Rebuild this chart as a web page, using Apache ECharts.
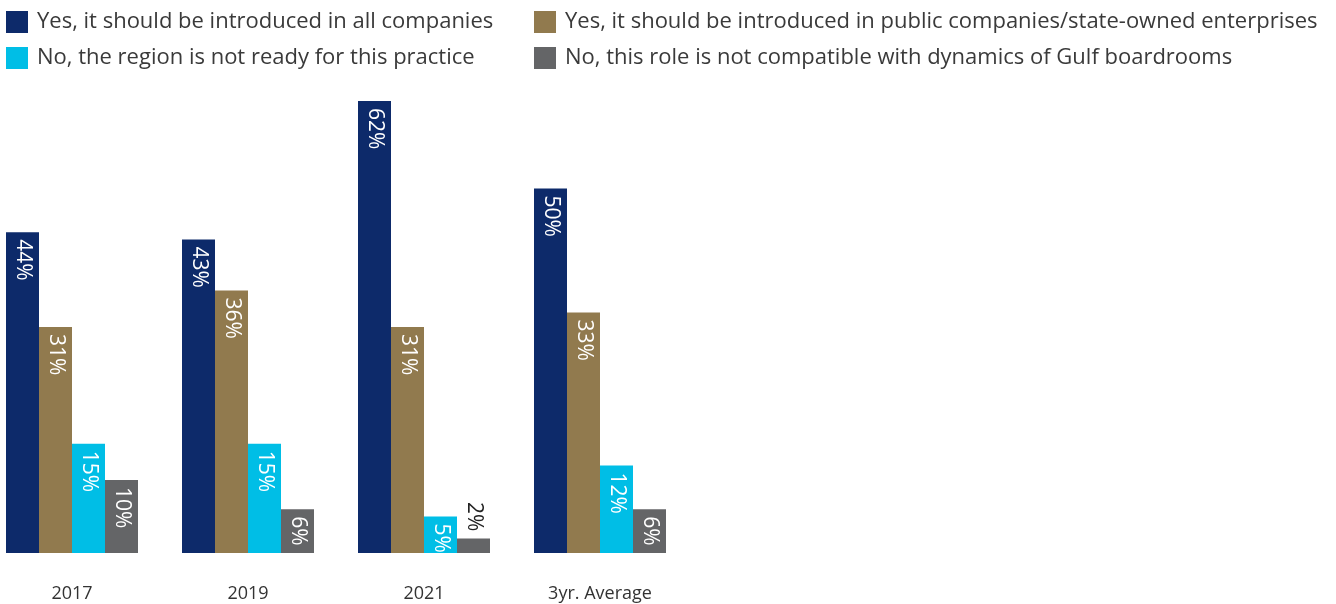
<!DOCTYPE html>
<html>
<head>
<meta charset="utf-8">
<script src="https://cdn.jsdelivr.net/npm/echarts@6/dist/echarts.min.js"></script>
<style>
  html, body { margin: 0; padding: 0; background: #fff; overflow: hidden; }
  /* canvas starts a little left of the page so the first group sits at the edge */
  #chart { width: 1352px; height: 604px; margin-left: -16px; }
</style>
</head>
<body>
<div id="chart"></div>
<script>
// Survey periods on the x axis
const categories = ['2017', '2019', '2021', '3yr. Average'];

// Share of respondents (%) per answer
const seriesNames = [
  'Yes, it should be introduced in all companies',
  'Yes, it should be introduced in public companies/state-owned enterprises',
  'No, the region is not ready for this practice',
  'No, this role is not compatible with dynamics of Gulf boardrooms'
];
const allCompanies = [44, 43, 62, 50];
const publicCompanies = [31, 36, 31, 33];
const notReady = [15, 15, 5, 12];
const notCompatible = [10, 6, 2, 6];

const colors = ['#0d2a6a', '#917a4e', '#00bee6', '#646567'];
const FONT = '"Open Sans", "Noto Sans", sans-serif';

const chart = echarts.init(document.getElementById('chart'), null, { renderer: 'canvas' });

// Small values do not fit inside the bar, so their label sits above it
function makeSeries(name, values, color) {
  return {
    name: name,
    type: 'bar',
    data: values.map(v => {
      const item = { value: v };
      if (v < 4) {
        item.label = {
          position: 'top',
          align: 'right',
          color: '#222',
          distance: 7
        };
      }
      return item;
    }),
    barWidth: 33,
    barGap: '0%',
    itemStyle: { color: color },
    label: {
      show: true,
      position: 'insideTop',
      rotate: -90,
      align: 'left',
      verticalAlign: 'middle',
      distance: 7,
      color: '#fff',
      fontFamily: FONT,
      fontSize: 21,
      formatter: p => p.value + '%'
    }
  };
}

const legendCommon = {
  orient: 'vertical',
  icon: 'rect',
  itemWidth: 22,
  itemHeight: 22,
  itemGap: 14,
  textStyle: {
    fontFamily: FONT,
    fontSize: 22,
    color: '#3a3a3a',
    padding: [0, 0, 0, 4]
  }
};

chart.setOption({
  animation: false,
  color: colors,
  legend: [
    Object.assign({}, legendCommon, { left: 17, top: 6, data: [seriesNames[0], seriesNames[2]] }),
    Object.assign({}, legendCommon, { left: 545, top: 6, data: [seriesNames[1], seriesNames[3]] })
  ],
  grid: { left: 0, top: 101, width: 704, height: 452 },
  xAxis: {
    type: 'category',
    data: categories,
    axisLine: { show: false },
    axisTick: { show: false },
    axisLabel: {
      margin: 32,
      fontFamily: FONT,
      fontSize: 18,
      color: '#333'
    }
  },
  yAxis: {
    type: 'value',
    min: 0,
    max: 62,
    show: false,
    splitLine: { show: false }
  },
  series: [
    makeSeries(seriesNames[0], allCompanies, colors[0]),
    makeSeries(seriesNames[1], publicCompanies, colors[1]),
    makeSeries(seriesNames[2], notReady, colors[2]),
    makeSeries(seriesNames[3], notCompatible, colors[3])
  ]
});
</script>
</body>
</html>
